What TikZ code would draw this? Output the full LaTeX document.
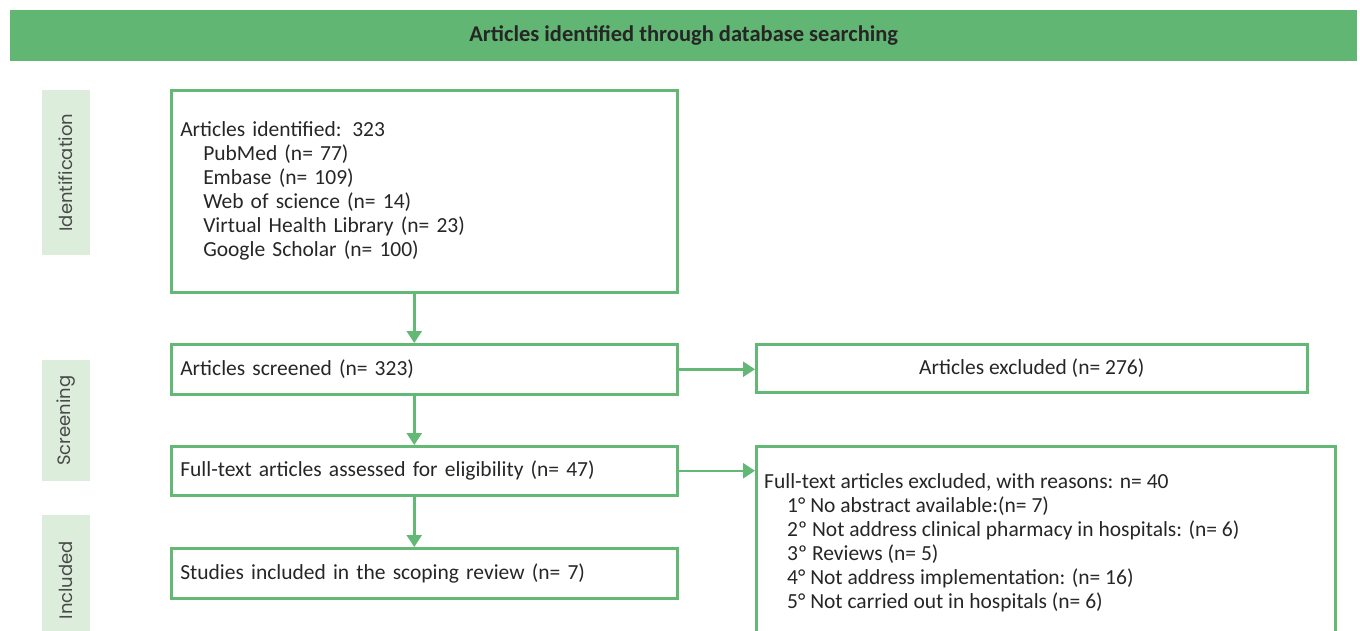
\documentclass[tikz,border=0pt]{standalone}
\usepackage{fontspec}
\setmainfont{Carlito}
\newfontfamily\sidefont{Poppins}
\usetikzlibrary{arrows.meta}
\definecolor{gline}{HTML}{62B874}
\definecolor{ghead}{HTML}{62B673}
\definecolor{gside}{HTML}{DCEDDC}
\definecolor{txt}{HTML}{262626}
\definecolor{sidetxt}{HTML}{4A4A4A}
\begin{document}
\begin{tikzpicture}[x=1pt,y=-1pt,
  box/.style={draw=gline, line width=2.5pt, inner sep=0pt, anchor=north west, text=txt,
    font=\fontsize{21.5}{24}\selectfont},
  sidebox/.style={fill=gside, anchor=north west, inner sep=0pt, minimum width=48pt},
  sidelabel/.style={rotate=90, text=sidetxt, font=\sidefont\fontsize{18}{20}\selectfont},
  arr/.style={draw=gline, line width=2.5pt, -{Triangle[width=15pt,length=12pt]}}
]
\useasboundingbox (0,0) rectangle (1360,630);
% header
\node[fill=ghead, anchor=north west, minimum width=1347pt, minimum height=51pt, inner sep=0pt,
  font=\bfseries\fontsize{22.5}{26}\selectfont, text=txt] (head) at (10,10) {Articles identified through database searching};
% side labels
\node[sidebox, minimum height=165pt] (sid) at (42,90) {};
\node[sidelabel] (sidt) at (sid.center) {Identification};
\node[sidebox, minimum height=121pt] (sscr) at (42,360) {};
\node[sidelabel] (sscrt) at (sscr.center) {Screening};
\node[sidebox, minimum height=130pt] (sinc) at (42,515) {};
\node[sidelabel] (sinct) at (sinc.center) {Included};
% main boxes
\node[box, minimum width=506pt, minimum height=202pt, text width=488pt, inner xsep=9pt, align=left] (ident) at (170,89)
  {Articles identified: 323\\
   \hspace*{23pt}PubMed (n= 77)\\
   \hspace*{23pt}Embase (n= 109)\\
   \hspace*{23pt}Web of science (n= 14)\\
   \hspace*{23pt}Virtual Health Library (n= 23)\\
   \hspace*{23pt}Google Scholar (n= 100)};
\node[box, minimum width=506pt, minimum height=50pt, text width=488pt, inner xsep=9pt, align=left] (screen) at (170,343)
  {Articles screened (n= 323)};
\node[box, minimum width=506pt, minimum height=49pt, text width=488pt, inner xsep=9pt, align=left] (elig) at (170,445)
  {Full-text articles assessed for eligibility (n= 47)};
\node[box, minimum width=506pt, minimum height=50pt, text width=488pt, inner xsep=9pt, align=left] (incl) at (170,547)
  {Studies included in the scoping review (n= 7)};
\node[box, minimum width=551pt, minimum height=48pt, align=center] (excl) at (755,343)
  {Articles excluded (n= 276)};
\node[box, minimum width=579pt, minimum height=200pt] (excl2) at (755,445) {};
\node[anchor=north west, inner sep=0pt, text=txt, align=left, font=\fontsize{21.5}{24}\selectfont] (excl2t) at (764,473)
  {Full-text articles excluded, with reasons: n= 40\\
   \hspace*{23pt}1° No abstract available:(n= 7)\\
   \hspace*{23pt}2º Not address clinical pharmacy in hospitals: (n= 6)\\
   \hspace*{23pt}3º Reviews (n= 5)\\
   \hspace*{23pt}4° Not address implementation: (n= 16)\\
   \hspace*{23pt}5° Not carried out in hospitals (n= 6)};
% connectors
\draw[arr] ([xshift=-10pt]ident.south) -- ([xshift=-10pt]screen.north);
\draw[arr] ([xshift=-10pt]screen.south) -- ([xshift=-10pt]elig.north);
\draw[arr] ([xshift=-10pt]elig.south) -- ([xshift=-10pt]incl.north);
\draw[arr] (screen.east) -- (screen.east -| excl.west);
\draw[arr] (elig.east) -- (elig.east -| excl2.west);
\end{tikzpicture}
\end{document}
